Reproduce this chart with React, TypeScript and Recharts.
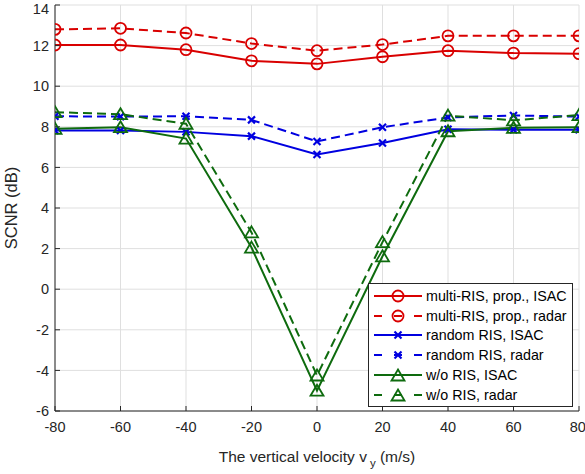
import React from "react";
import { LineChart, Line, XAxis, YAxis, CartesianGrid, Legend } from "recharts";

const VELOCITY = [-80, -60, -40, -20, 0, 20, 40, 60, 80];
const MULTI_ISAC = [12.03, 12.03, 11.8, 11.25, 11.1, 11.45, 11.75, 11.63, 11.6];
const MULTI_RADAR = [12.8, 12.85, 12.62, 12.1, 11.75, 12.05, 12.48, 12.48, 12.48];
const RANDOM_ISAC = [7.82, 7.82, 7.75, 7.54, 6.64, 7.2, 7.88, 7.85, 7.85];
const RANDOM_RADAR = [8.52, 8.5, 8.52, 8.34, 7.28, 7.98, 8.46, 8.56, 8.5];
const WO_ISAC = [7.9, 7.98, 7.42, 2.05, -5.0, 1.62, 7.78, 7.95, 7.98];
const WO_RADAR = [8.72, 8.62, 8.15, 2.8, -4.25, 2.32, 8.55, 8.32, 8.58];

const X_TICKS = [-80, -60, -40, -20, 0, 20, 40, 60, 80];
const Y_TICKS = [-6, -4, -2, 0, 2, 4, 6, 8, 10, 12, 14];

const RED = "#d90000";
const BLUE = "#0000e0";
const GREEN = "#0e6b0e";
const AXIS = "#262626";
const GRID = "#dfdfdf";
const FONT = '"Liberation Sans", Arial, Helvetica, sans-serif';

type Shape = "circle" | "cross" | "triangle";

const SERIES: { key: string; name: string; color: string; shape: Shape; dashed: boolean; values: number[] }[] = [
  { key: "multiIsac", name: "multi-RIS, prop., ISAC", color: RED, shape: "circle", dashed: false, values: MULTI_ISAC },
  { key: "multiRadar", name: "multi-RIS, prop., radar", color: RED, shape: "circle", dashed: true, values: MULTI_RADAR },
  { key: "randomIsac", name: "random RIS, ISAC", color: BLUE, shape: "cross", dashed: false, values: RANDOM_ISAC },
  { key: "randomRadar", name: "random RIS, radar", color: BLUE, shape: "cross", dashed: true, values: RANDOM_RADAR },
  { key: "woIsac", name: "w/o RIS, ISAC", color: GREEN, shape: "triangle", dashed: false, values: WO_ISAC },
  { key: "woRadar", name: "w/o RIS, radar", color: GREEN, shape: "triangle", dashed: true, values: WO_RADAR },
];

const data = VELOCITY.map((v, i) => {
  const row: Record<string, number> = { v };
  for (const s of SERIES) row[s.key] = s.values[i];
  return row;
});

function Marker({ cx, cy, shape, color }: { cx: number; cy: number; shape: Shape; color: string }) {
  if (shape === "circle") {
    return <circle cx={cx} cy={cy} r={5.5} fill="none" stroke={color} strokeWidth={1.8} />;
  }
  if (shape === "cross") {
    const d = 3.5;
    return (
      <g stroke={color} strokeWidth={2.2}>
        <line x1={cx - d} y1={cy - d} x2={cx + d} y2={cy + d} />
        <line x1={cx - d} y1={cy + d} x2={cx + d} y2={cy - d} />
      </g>
    );
  }
  return (
    <path
      d={`M${cx},${cy - 6} L${cx + 6.5},${cy + 5} L${cx - 6.5},${cy + 5} Z`}
      fill="none"
      stroke={color}
      strokeWidth={1.8}
      strokeLinejoin="miter"
    />
  );
}

const makeDot = (shape: Shape, color: string) => (props: any) => (
  <Marker key={`${shape}-${props.index}`} cx={props.cx} cy={props.cy} shape={shape} color={color} />
);

const noTick = () => <g />;

// legend drawn like a matlab legend box
function LegendBox() {
  return (
    <div
      style={{
        boxSizing: "border-box",
        width: 205,
        border: `1px solid ${AXIS}`,
        background: "#fff",
        padding: "2px 0 1px 0",
        fontFamily: FONT,
        fontSize: 14.3,
        color: "#000",
        overflow: "hidden",
      }}
    >
      {SERIES.map((s) => (
        <div key={s.key} style={{ display: "flex", alignItems: "center", height: 19.8 }}>
          <svg width={54} height={18} style={{ display: "block", flexShrink: 0 }}>
            {s.dashed ? (
              <g stroke={s.color} strokeWidth={2}>
                <line x1={5} y1={9} x2={13} y2={9} />
                <line x1={25} y1={9} x2={33} y2={9} />
                <line x1={45} y1={9} x2={53} y2={9} />
              </g>
            ) : (
              <line x1={5} y1={9} x2={53} y2={9} stroke={s.color} strokeWidth={2} />
            )}
            <Marker cx={29} cy={s.shape === "triangle" ? 9.5 : 9} shape={s.shape} color={s.color} />
          </svg>
          <span style={{ marginLeft: 3, whiteSpace: "nowrap" }}>{s.name}</span>
        </div>
      ))}
    </div>
  );
}

function XLabel(props: any) {
  const vb = props.viewBox ?? {};
  const cx = (vb.x ?? 55) + (vb.width ?? 524) / 2;
  const y = (vb.y ?? 411) + 51;
  return (
    <text x={cx} y={y} textAnchor="middle" fill={AXIS} fontSize={15.5} fontFamily={FONT}>
      The vertical velocity v
      <tspan dx={3} dy={5} fontSize={11.5}>y</tspan>
      <tspan dy={-5}> (m/s)</tspan>
    </text>
  );
}

function YLabel(props: any) {
  const vb = props.viewBox ?? {};
  const cy = (vb.y ?? 5) + (vb.height ?? 406) / 2;
  const x = 17;
  return (
    <text x={x} y={cy} transform={`rotate(-90, ${x}, ${cy})`} textAnchor="middle" fill={AXIS} fontSize={16.5} fontFamily={FONT}>
      SCNR (dB)
    </text>
  );
}

export default function App() {
  const tickStyle = { fill: AXIS, fontSize: 14.5, fontFamily: FONT };
  return (
    <div style={{ position: "absolute", left: 0, top: 0, width: 585, height: 474, background: "#fff", fontFamily: FONT }}>
      <LineChart width={585} height={474} data={data} margin={{ top: 5, right: 6, bottom: 13, left: 0 }}>
        <CartesianGrid stroke={GRID} strokeWidth={1} />
        <XAxis
          dataKey="v"
          type="number"
          domain={[-80, 80]}
          ticks={X_TICKS}
          height={50}
          stroke={AXIS}
          tick={tickStyle}
          tickSize={-5}
          tickMargin={16}
          label={<XLabel />}
          allowDataOverflow
        />
        <XAxis
          xAxisId="top"
          orientation="top"
          type="number"
          domain={[-80, 80]}
          ticks={X_TICKS}
          height={0}
          stroke={AXIS}
          tick={noTick}
          tickSize={-5}
          allowDataOverflow
        />
        <YAxis
          type="number"
          domain={[-6, 14]}
          ticks={Y_TICKS}
          width={55}
          stroke={AXIS}
          tick={tickStyle}
          tickSize={-5}
          tickMargin={11}
          label={<YLabel />}
          allowDataOverflow
        />
        <YAxis
          yAxisId="right"
          orientation="right"
          type="number"
          domain={[-6, 14]}
          ticks={Y_TICKS}
          width={0}
          stroke={AXIS}
          tick={noTick}
          tickSize={-5}
          allowDataOverflow
        />
        <Legend
          layout="vertical"
          align="center"
          verticalAlign="middle"
          content={() => <LegendBox />}
          wrapperStyle={{ left: 368, top: 283, width: "auto", height: "auto" }}
        />
        {SERIES.map((s) => (
          <Line
            key={s.key}
            dataKey={s.key}
            name={s.name}
            type="linear"
            stroke={s.color}
            strokeWidth={2}
            strokeDasharray={s.dashed ? "9 5" : undefined}
            dot={makeDot(s.shape, s.color)}
            activeDot={false}
            isAnimationActive={false}
            legendType="none"
          />
        ))}
      </LineChart>
    </div>
  );
}
